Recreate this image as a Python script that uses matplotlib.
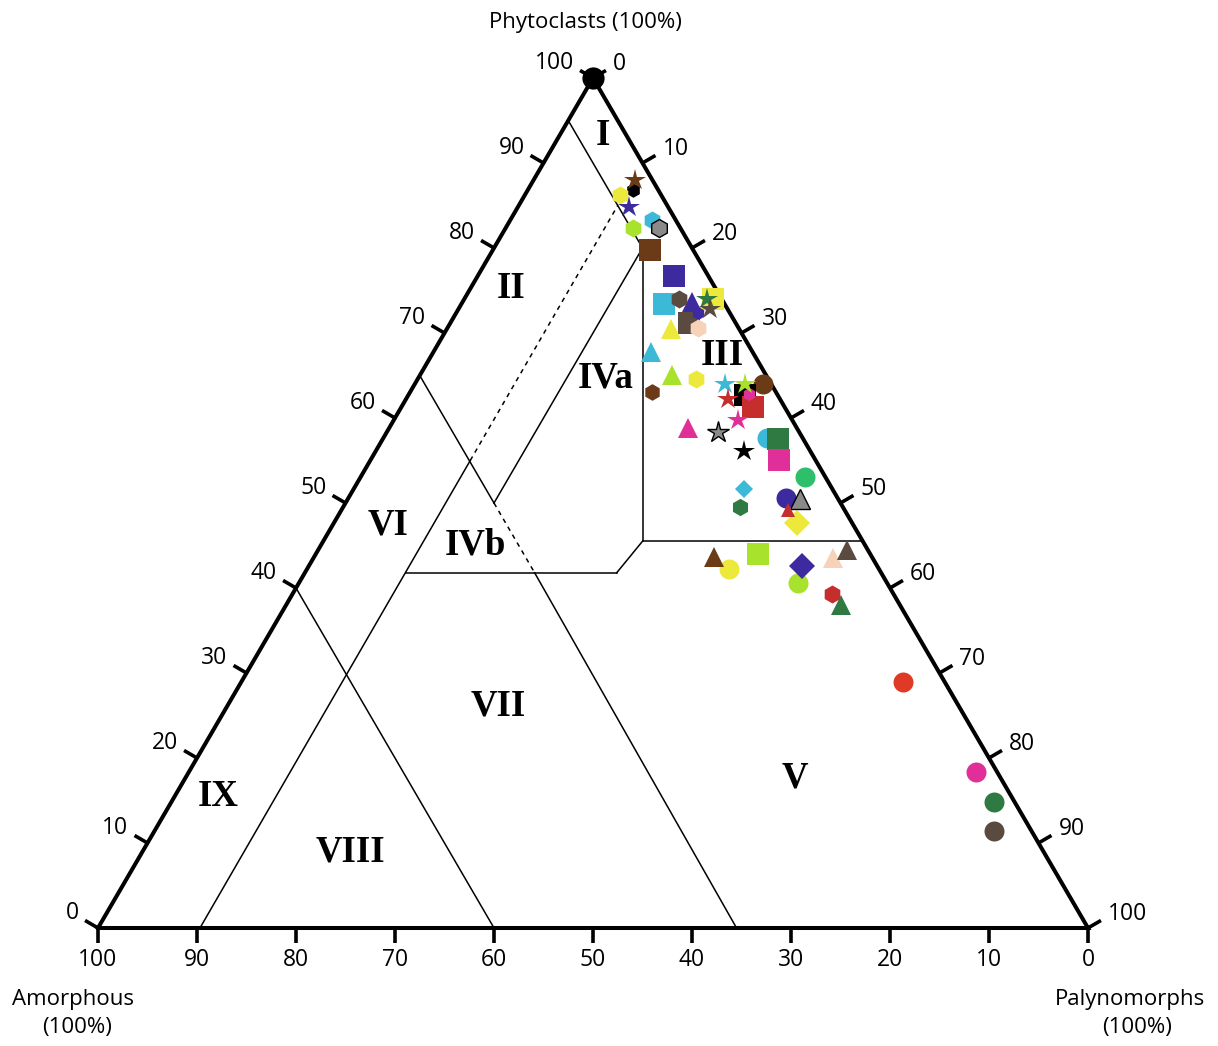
import numpy as np
import matplotlib
matplotlib.use("Agg")
import matplotlib.pyplot as plt

# ------------------------------------------------------------------
# DATA  (ternary percentages: Phytoclasts, Palynomorphs; Amorphous = rest)
# ------------------------------------------------------------------
tick_values = [0, 10, 20, 30, 40, 50, 60, 70, 80, 90, 100]

circle_phyto = [100.0, 64.0, 57.6, 53.1, 50.6, 42.2, 40.6, 28.9, 18.4, 14.8, 11.4]
circle_palyno = [0.0, 35.2, 38.8, 44.9, 44.2, 42.6, 50.4, 66.9, 79.5, 83.1, 84.8]

square_phyto = [79.8, 76.7, 73.4, 74.0, 71.2, 62.7, 61.3, 57.5, 55.1, 44.0]
square_palyno = [15.9, 19.8, 20.5, 25.1, 24.1, 34.0, 35.5, 39.9, 41.2, 44.7]

diamond_phyto = [51.7, 47.7, 42.6]
diamond_palyno = [39.4, 46.8, 49.8]

triangle_phyto = [73.7, 70.5, 67.8, 65.1, 58.8, 50.5, 49.2, 43.7, 43.5, 44.5, 38.0]
triangle_palyno = [23.2, 22.6, 22.0, 25.4, 30.2, 45.7, 45.1, 40.4, 52.5, 53.4, 56.1]

hexagon_phyto = [86.8, 86.2, 83.3, 82.4, 82.4, 74.0, 72.4, 70.6, 64.6, 63.1, 62.8, 49.5, 39.3]
hexagon_palyno = [10.6, 9.6, 14.3, 15.5, 12.8, 21.7, 24.4, 25.3, 28.1, 24.4, 34.4, 40.1, 54.5]

star_phyto = [88.0, 84.8, 74.0, 72.8, 64.0, 64.0, 62.2, 59.8, 58.4, 56.1]
star_palyno = [10.2, 11.2, 24.5, 25.4, 31.3, 33.4, 32.5, 34.7, 33.4, 37.2]

field_labels = ["I", "II", "III", "IVa", "IVb", "V", "VI", "VII", "VIII", "IX"]

# ------------------------------------------------------------------
# STYLES
# ------------------------------------------------------------------
BROWN = "#6B3A17"
TAUPE = "#5B4A3F"
INDIGO = "#3D2A9E"
CYAN = "#3DB9D8"
LIME = "#A8E22C"
YELLOW = "#EDE83C"
DKGREEN = "#2E7A42"
EMERALD = "#2EBF6A"
MAGENTA = "#E02F98"
RED = "#C62D2D"
REDOR = "#E03A27"
PEACH = "#F5D2B8"
GRAY = "#8A8A8A"
BLACK = "#000000"

circle_colors = [BLACK, BROWN, CYAN, EMERALD, INDIGO, YELLOW, LIME, REDOR, MAGENTA, DKGREEN, TAUPE]
circle_sizes = [16] + [14.4] * 10
square_colors = [BROWN, INDIGO, CYAN, YELLOW, TAUPE, BLACK, RED, DKGREEN, MAGENTA, LIME]
diamond_colors = [CYAN, YELLOW, INDIGO]
diamond_sizes = [8.7, 13.2, 13.2]
triangle_colors = [INDIGO, YELLOW, CYAN, LIME, MAGENTA, GRAY, RED, BROWN, PEACH, TAUPE, DKGREEN]
triangle_sizes = [14, 14, 14, 14, 14, 14, 10, 14, 14, 14, 14]
hexagon_colors = [BLACK, YELLOW, CYAN, GRAY, LIME, TAUPE, INDIGO, PEACH, YELLOW, BROWN, MAGENTA, DKGREEN, RED]
hexagon_sizes = [10.5, 13, 13, 13, 13, 13, 9.5, 13, 13, 12, 9.5, 12.5, 13]
star_colors = [BROWN, INDIGO, DKGREEN, TAUPE, CYAN, LIME, RED, MAGENTA, GRAY, BLACK]

# ------------------------------------------------------------------
W, H = 1218, 1046
X0, Y0, SX, SY = 98, 928, 9.9, 8.5   # pixel origin and px per unit

fig = plt.figure(figsize=(W / 100, H / 100), dpi=100)
ax = fig.add_axes([0, 0, 1, 1])
ax.set_xlim(-X0 / SX, (W - X0) / SX)
ax.set_ylim(-(H - Y0) / SY, Y0 / SY)
ax.axis("off")


def cart(P, L):
    P = np.asarray(P, float)
    L = np.asarray(L, float)
    return L + P / 2.0, P


def at_px(x, y):
    return (x - X0) / SX, (Y0 - y) / SY


LABEL_FONT = ["Open Sans", "DejaVu Sans"]
ROMAN_FONT = ["Liberation Serif", "DejaVu Serif"]
TICK_FS = 16.5
TITLE_FS = 16

# triangle outline
tx, ty = cart([0, 0, 100, 0], [0, 100, 0, 0])
ax.plot(tx, ty, color="black", lw=2.9, solid_joinstyle="miter", zorder=3,
        solid_capstyle="projecting")

# ticks and labels
TL = 15.0
nl = (-0.864, 0.503)   # outward normal left edge (x right, y up) in px
nr = (0.864, 0.503)
for v in tick_values:
    # left edge: phytoclasts
    ex, ey = cart(v, 0)
    fx, fy = ex + nl[0] * TL / SX, ey + nl[1] * TL / SY
    ax.plot([ex, fx], [ey, fy], color="black", lw=2.6, zorder=3, solid_capstyle="butt")
    ax.text(fx - 6 / SX, fy + 7 / SY, str(v), ha="right", va="center",
            fontsize=TICK_FS, family=LABEL_FONT)
    # right edge: palynomorphs
    ex, ey = cart(100 - v, v)
    fx, fy = ex + nr[0] * TL / SX, ey + nr[1] * TL / SY
    ax.plot([ex, fx], [ey, fy], color="black", lw=2.6, zorder=3, solid_capstyle="butt")
    ax.text(fx + 7 / SX, fy + 6 / SY, str(v), ha="left", va="center",
            fontsize=TICK_FS, family=LABEL_FONT)
    # bottom edge: amorphous
    ex, ey = cart(0, 100 - v)
    fx, fy = ex, ey - TL / SY
    ax.plot([ex, fx], [ey, fy], color="black", lw=2.6, zorder=3, solid_capstyle="butt")
    ax.text(fx, fy - 17 / SY, str(v), ha="center", va="center",
            fontsize=TICK_FS, family=LABEL_FONT)

# field boundaries (P, L endpoints)
solid_segments = [
    ((95, 0), (80, 15)),
    ((80, 15), (45.5, 32.25)),
    ((45.5, 32.25), (45.5, 54.5)),
    ((45.5, 32.25), (41.8, 31.5)),
    ((41.8, 31.5), (41.8, 10.2)),
    ((80, 15), (50, 15)),
    ((0, 10.3), (55, 10.1)),
    ((65, 0), (50, 15)),
    ((41.8, 23.2), (0, 64.5)),
    ((40, 0), (0, 40)),
]
dotted_segments = [
    ((55, 10.1), (85, 10)),
    ((50, 15), (41.8, 23.2)),
]
for (p1, l1), (p2, l2) in solid_segments:
    xs, ys = cart([p1, p2], [l1, l2])
    ax.plot(xs, ys, color="black", lw=1.1, zorder=2)
for (p1, l1), (p2, l2) in dotted_segments:
    xs, ys = cart([p1, p2], [l1, l2])
    ax.plot(xs, ys, color="black", lw=1.1, ls=(0, (3, 3)), zorder=2)

# field labels
label_pos_px = [(603, 135), (511, 288), (722, 355), (606, 378), (475, 545),
                (795, 778), (388, 525), (498, 706), (350, 852), (218, 797)]
for lab, (lx, ly) in zip(field_labels, label_pos_px):
    x, y = at_px(lx, ly)
    ax.text(x, y, lab, ha="center", va="center", fontsize=26.5, fontweight="bold",
            family=ROMAN_FONT, zorder=4)

# axis titles
x, y = at_px(585, 22)
ax.text(x, y, "Phytoclasts (100%)", ha="center", va="center", fontsize=TITLE_FS, family=LABEL_FONT)
x, y = at_px(73, 999)
ax.text(x, y, "Amorphous", ha="center", va="center", fontsize=TITLE_FS, family=LABEL_FONT)
x, y = at_px(77, 1028)
ax.text(x, y, "(100%)", ha="center", va="center", fontsize=TITLE_FS, family=LABEL_FONT)
x, y = at_px(1130, 999)
ax.text(x, y, "Palynomorphs", ha="center", va="center", fontsize=TITLE_FS, family=LABEL_FONT)
x, y = at_px(1137, 1028)
ax.text(x, y, "(100%)", ha="center", va="center", fontsize=TITLE_FS, family=LABEL_FONT)


def draw(phyto, palyno, colors, marker, sizes, z):
    xs, ys = cart(phyto, palyno)
    if np.isscalar(sizes):
        sizes = [sizes] * len(xs)
    for x, y, c, s in zip(xs, ys, colors, sizes):
        ec = "black" if c == GRAY else c
        lw = 1.0 if c == GRAY else 0.0
        ax.plot([x], [y], marker=marker, ms=s, mfc=c, mec=ec, mew=lw,
                ls="none", zorder=z)


draw(circle_phyto, circle_palyno, circle_colors, "o", circle_sizes, 5)
draw(square_phyto, square_palyno, square_colors, "s", 16, 6)
draw(diamond_phyto, diamond_palyno, diamond_colors, "D", diamond_sizes, 7)
draw(triangle_phyto, triangle_palyno, triangle_colors, "^", triangle_sizes, 8)
draw(hexagon_phyto, hexagon_palyno, hexagon_colors, "h", hexagon_sizes, 9)
draw(star_phyto, star_palyno, star_colors, "*", 16, 10)

fig.savefig("out.png", dpi=100)
